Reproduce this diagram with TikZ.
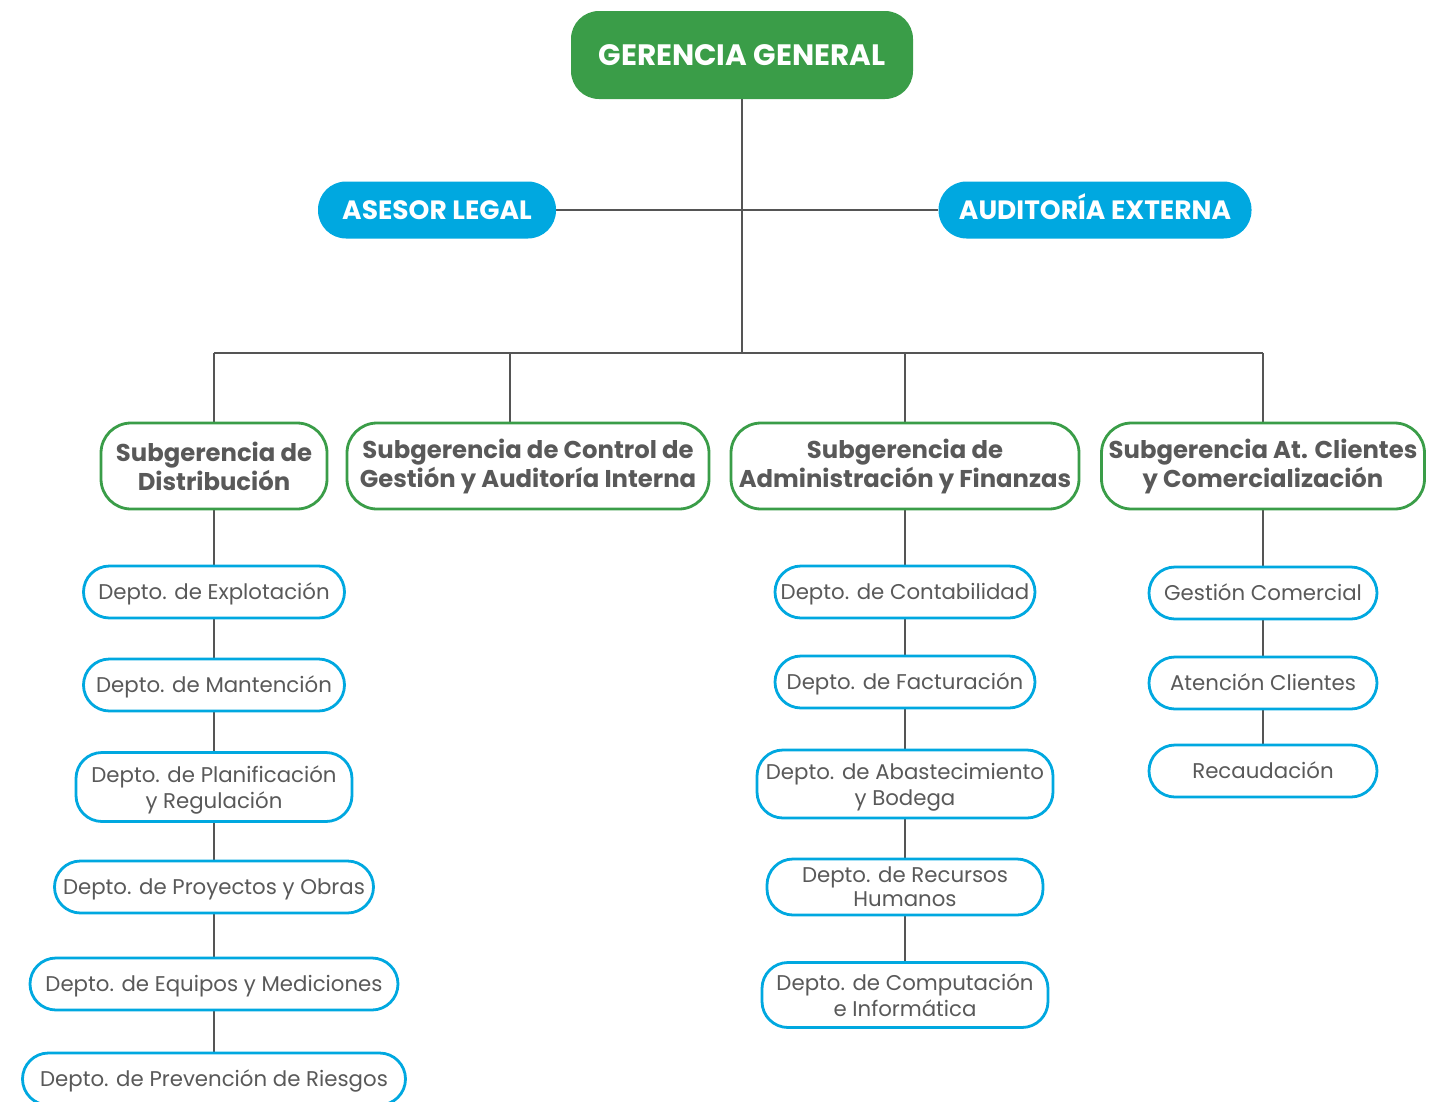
\documentclass[tikz,border=0pt]{standalone}
\usepackage{fontspec}
\setmainfont{Poppins}
\usetikzlibrary{backgrounds}
\definecolor{ggreen}{HTML}{3A9D48}
\definecolor{bblue}{HTML}{00A8E0}
\definecolor{tgray}{HTML}{595959}
\definecolor{lgray}{HTML}{555555}
\tikzset{
  gg/.style={draw=none, fill=ggreen, rounded corners=28pt, text=white, font=\fontsize{29.5}{32}\selectfont\bfseries, inner sep=0pt, align=center, text height=20.6pt, text depth=0pt},
  topbox/.style={draw=none, fill=bblue, rounded corners=28pt, text=white, font=\fontsize{26.5}{30}\selectfont\bfseries, inner sep=0pt, align=center, minimum height=57pt, text height=18.5pt, text depth=0pt},
  sub/.style={draw=ggreen, line width=2.8pt, fill=white, rounded corners=30pt, text=tgray, font=\fontsize{24.3}{29}\selectfont\bfseries, inner sep=0pt, align=center, minimum height=86pt},
  dep/.style={draw=bblue, line width=2.8pt, fill=white, rounded corners=26pt, text=tgray, font=\fontsize{21.3}{26}\selectfont, inner sep=0pt, align=center, minimum height=52pt},
  one/.style={text height=15pt, text depth=0pt},
  ml/.style={text depth=0pt},
  conn/.style={draw=lgray, line width=2.8pt},
}
\begin{document}
\begin{tikzpicture}[x=1pt,y=-1pt]
\useasboundingbox (0,0) rectangle (1449,1101);
% top
\node[gg, minimum width=342pt, minimum height=88pt] (gg) at (742,55) {GERENCIA GENERAL};
\node[topbox, minimum width=238pt] (al) at (437,210) {ASESOR LEGAL};
\node[topbox, minimum width=313pt] (ae) at (1095,210) {AUDITORÍA EXTERNA};
\coordinate (b0) at (742,353);
\coordinate (b1) at (214,353);
\coordinate (b2) at (510,353);
\coordinate (b3) at (905,353);
\coordinate (b4) at (1263,353);
% subgerencias
\node[sub, minimum width=226pt] (s1) at (214,466) {Subgerencia de\\Distribución};
\node[sub, minimum width=362pt] (s2) at (528,466) {Subgerencia de Control de\\Gestión y Auditoría Interna};
\node[sub, minimum width=348pt] (s3) at (905,466) {Subgerencia de\\Administración y Finanzas};
\node[sub, minimum width=323pt] (s4) at (1263,466) {Subgerencia At. Clientes\\y Comercialización};
% left column
\node[dep, one, minimum width=261pt] (d1) at (214,592) {Depto. de Explotación};
\node[dep, one, minimum width=261pt] (d2) at (214,685) {Depto. de Mantención};
\node[dep, ml, minimum width=276pt, minimum height=69pt] (d3) at (214,787) {Depto. de Planificación\\y Regulación};
\node[dep, one, minimum width=319pt] (d4) at (214,887) {Depto. de Proyectos y Obras};
\node[dep, one, minimum width=368pt] (d5) at (214,984) {Depto. de Equipos y Mediciones};
\node[dep, one, minimum width=383pt] (d6) at (214,1079) {Depto. de Prevención de Riesgos};
% middle column
\node[dep, one, minimum width=260pt] (m1) at (905,592) {Depto. de Contabilidad};
\node[dep, one, minimum width=260pt] (m2) at (905,682) {Depto. de Facturación};
\node[dep, ml, minimum width=296pt, minimum height=68pt] (m3) at (905,784) {Depto. de Abastecimiento\\y Bodega};
\node[dep, ml, minimum width=276pt, minimum height=56pt, font=\fontsize{21.3}{24}\selectfont] (m4) at (905,887) {Depto. de Recursos\\Humanos};
\node[dep, ml, minimum width=286pt, minimum height=65pt] (m5) at (905,995) {Depto. de Computación\\e Informática};
% right column
\node[dep, one, minimum width=228pt] (r1) at (1263,593) {Gestión Comercial};
\node[dep, one, minimum width=228pt] (r2) at (1263,683) {Atención Clientes};
\node[dep, one, minimum width=228pt] (r3) at (1263,771) {Recaudación};
% connectors
\begin{scope}[on background layer]
\draw[conn] (gg.south) -- (b0);
\draw[conn] (al.east) -- (ae.west);
\draw[conn] (b1) -- (b4);
\draw[conn] (b1) -- (s1.north);
\draw[conn] (b2) -- (b2 |- s2.north);
\draw[conn] (b3) -- (s3.north);
\draw[conn] (b4) -- (s4.north);
\draw[conn] (s1.south) -- (d1.north);
\draw[conn] (d1.south) -- (d2.north);
\draw[conn] (d2.south) -- (d3.north);
\draw[conn] (d3.south) -- (d4.north);
\draw[conn] (d4.south) -- (d5.north);
\draw[conn] (d5.south) -- (d6.north);
\draw[conn] (s3.south) -- (m1.north);
\draw[conn] (m1.south) -- (m2.north);
\draw[conn] (m2.south) -- (m3.north);
\draw[conn] (m3.south) -- (m4.north);
\draw[conn] (m4.south) -- (m5.north);
\draw[conn] (s4.south) -- (r1.north);
\draw[conn] (r1.south) -- (r2.north);
\draw[conn] (r2.south) -- (r3.north);
\end{scope}
\end{tikzpicture}
\end{document}
